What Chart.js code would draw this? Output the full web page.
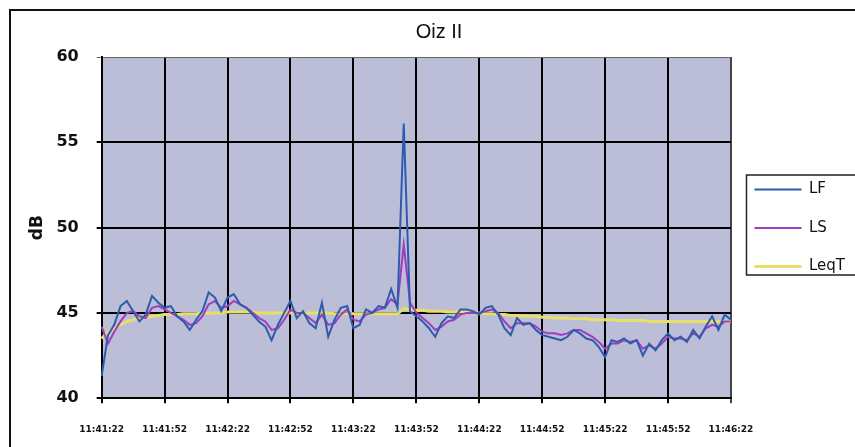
<!DOCTYPE html>
<html>
<head>
<meta charset="utf-8">
<script src="https://cdn.jsdelivr.net/npm/chart.js@4.4.1/dist/chart.umd.min.js"></script>
<style>
  html, body { margin: 0; padding: 0; background: #ffffff; overflow: hidden; }
  #wrap { position: relative; width: 855px; height: 447px; overflow: hidden; }
</style>
</head>
<body>
<div id="wrap"><canvas id="c" width="855" height="456"></canvas></div>
<script>
// ---- Data (one point every 3 s) ----
const chartTitle = 'Oiz II';
const yAxisTitle = 'dB';
const tickLabels = ['11:41:22','11:41:52','11:42:22','11:42:52','11:43:22','11:43:52',
                    '11:44:22','11:44:52','11:45:22','11:45:52','11:46:22'];
const seriesNames = ['LF', 'LS', 'LeqT'];

const LF = [
  41.3, 43.7, 44.3, 45.4, 45.7, 45.1, 44.5, 44.9, 46.0, 45.6,
  45.3, 45.4, 44.8, 44.5, 44.0, 44.6, 45.1, 46.2, 45.9, 45.1,
  45.9, 46.1, 45.5, 45.3, 44.9, 44.5, 44.2, 43.4, 44.3, 45.0,
  45.7, 44.7, 45.1, 44.4, 44.1, 45.6, 43.6, 44.6, 45.3, 45.4,
  44.1, 44.3, 45.2, 45.0, 45.4, 45.3, 46.4, 45.3, 56.1, 45.1,
  44.8, 44.5, 44.1, 43.6, 44.4, 44.8, 44.7, 45.2, 45.2, 45.1,
  44.9, 45.3, 45.4, 44.9, 44.1, 43.7, 44.7, 44.3, 44.4, 44.0,
  43.7, 43.6, 43.5, 43.4, 43.6, 44.0, 43.8, 43.5, 43.4, 43.0,
  42.4, 43.4, 43.3, 43.5, 43.2, 43.4, 42.5, 43.2, 42.8, 43.4,
  43.8, 43.4, 43.6, 43.3, 44.0, 43.5, 44.2, 44.8, 44.0, 44.9,
  44.6
];
const LS = [
  44.2, 43.2, 43.9, 44.5, 45.0, 45.1, 44.8, 44.7, 45.3, 45.4,
  45.2, 45.0, 44.8, 44.6, 44.3, 44.4, 44.8, 45.5, 45.7, 45.3,
  45.4, 45.7, 45.5, 45.3, 45.0, 44.7, 44.5, 44.0, 44.1, 44.6,
  45.2, 45.0, 45.0, 44.7, 44.4, 44.9, 44.3, 44.4, 44.9, 45.2,
  44.6, 44.5, 44.9, 45.0, 45.2, 45.3, 45.8, 45.5, 49.0, 45.6,
  45.0, 44.7, 44.4, 44.0, 44.2, 44.5, 44.6, 44.9, 45.0, 45.0,
  45.0, 45.1, 45.2, 45.0, 44.5, 44.1, 44.4, 44.4, 44.4, 44.2,
  43.9, 43.8, 43.8, 43.7, 43.8, 44.0, 44.0, 43.8, 43.6, 43.3,
  42.9, 43.2, 43.2, 43.4, 43.3, 43.4, 42.9, 43.1, 42.9, 43.2,
  43.6, 43.5, 43.5, 43.4, 43.8, 43.6, 44.1, 44.3, 44.2, 44.5,
  44.5
];
const LeqT = [
  43.5, 43.9, 44.1, 44.3, 44.5, 44.6, 44.7, 44.75, 44.8, 44.85,
  44.9, 44.9, 44.9, 44.95, 44.95, 44.95, 45.0, 45.0, 45.0, 45.0,
  45.05, 45.05, 45.05, 45.05, 45.05, 45.0, 45.0, 45.0, 45.0, 45.0,
  45.0, 45.0, 45.0, 45.0, 45.0, 45.0, 45.0, 44.95, 44.95, 44.95,
  44.95, 44.95, 44.95, 44.95, 44.95, 44.95, 44.95, 44.95, 45.25, 45.2,
  45.15, 45.15, 45.1, 45.1, 45.1, 45.05, 45.05, 45.05, 45.05, 45.0,
  45.0, 44.95, 44.95, 44.9, 44.9, 44.85, 44.85, 44.8, 44.8, 44.8,
  44.75, 44.75, 44.7, 44.7, 44.7, 44.65, 44.65, 44.65, 44.6, 44.6,
  44.6, 44.6, 44.55, 44.55, 44.55, 44.55, 44.55, 44.5, 44.5, 44.5,
  44.5, 44.5, 44.5, 44.5, 44.5, 44.5, 44.5, 44.5, 44.5, 44.5,
  44.5
];
const yMin = 40, yMax = 60, yStep = 5;
const pointsPerTick = 10;

// category labels: one per sample, a time label every 10th sample
const labels = LF.map((v, i) => (i % pointsPerTick === 0 ? tickLabels[i / pointsPerTick] : ''));

const plotBg = {
  id: 'plotBg',
  beforeDraw(chart) {
    const {ctx, chartArea: a} = chart;
    ctx.save();
    ctx.fillStyle = '#bcbdd6';
    ctx.fillRect(a.left, a.top, a.right - a.left, a.bottom - a.top);
    ctx.restore();
  }
};
const frame = {
  id: 'frame',
  afterDraw(chart) {
    const {ctx} = chart;
    ctx.save();
    ctx.strokeStyle = '#111';
    ctx.lineWidth = 2;
    ctx.beginPath();
    ctx.moveTo(10, 470); ctx.lineTo(10, 10); ctx.lineTo(870, 10);
    ctx.stroke();
    // legend box
    const lg = chart.legend;
    if (lg && lg.legendHitBoxes && lg.legendHitBoxes.length) {
      const hb = lg.legendHitBoxes;
      const first = hb[0], last = hb[hb.length - 1];
      const l = first.left - 8, t = first.top - 7, b = last.top + last.height + 1;
      ctx.lineWidth = 1.5;
      ctx.strokeStyle = '#222';
      ctx.beginPath();
      ctx.moveTo(870, t); ctx.lineTo(l, t); ctx.lineTo(l, b); ctx.lineTo(870, b);
      ctx.stroke();
    }
    ctx.restore();
  }
};

new Chart(document.getElementById('c'), {
  type: 'line',
  data: {
    labels: labels,
    datasets: [
      { label: seriesNames[0], data: LF, borderColor: '#2d5cae', borderWidth: 2 },
      { label: seriesNames[1], data: LS, borderColor: '#a03cbe', borderWidth: 2 },
      { label: seriesNames[2], data: LeqT, borderColor: '#e6e06a', borderWidth: 3 }
    ]
  },
  options: {
    responsive: false,
    animation: false,
    devicePixelRatio: 1,
    elements: { point: { radius: 0 }, line: { tension: 0 } },
    layout: { padding: { left: 23, right: 0, top: 0, bottom: 0 } },
    plugins: {
      title: {
        display: true, text: chartTitle, color: '#111',
        font: { family: 'Liberation Sans, Arial', size: 20, weight: 'normal' },
        padding: { top: 20, bottom: 13 }
      },
      legend: {
        position: 'right',
        labels: {
          usePointStyle: true, pointStyle: 'line', pointStyleWidth: 47,
          padding: 23.5, color: '#111',
          font: { family: 'DejaVu Sans', size: 15 }
        }
      },
      tooltip: { enabled: false }
    },
    scales: {
      x: {
        grid: {
          color: (c) => (c.index % pointsPerTick === 0 ? (c.index === 100 ? '#444' : '#000') : 'rgba(0,0,0,0)'),
          lineWidth: 2, tickLength: 5, drawOnChartArea: true
        },
        border: { color: '#000', width: 2 },
        ticks: {
          autoSkip: false, maxRotation: 0, padding: 21, color: '#111',
          font: { family: 'DejaVu Sans', size: 9, weight: 'bold' }
        }
      },
      y: {
        min: yMin, max: yMax,
        grid: {
          color: (c) => (c.tick && c.tick.value === yMax ? '#666' : '#000'),
          lineWidth: (c) => (c.tick && c.tick.value === yMax ? 1 : 2), tickLength: 5
        },
        border: { color: '#000', width: 2 },
        ticks: {
          stepSize: yStep, padding: 18, color: '#111',
          font: { family: 'DejaVu Sans', size: 16, weight: 'bold' }
        },
        title: {
          display: true, text: yAxisTitle, color: '#111',
          font: { family: 'DejaVu Sans', size: 17, weight: 'bold' },
          padding: { top: 4, bottom: -9 }
        }
      }
    }
  },
  plugins: [plotBg, frame]
});
</script>
</body>
</html>
